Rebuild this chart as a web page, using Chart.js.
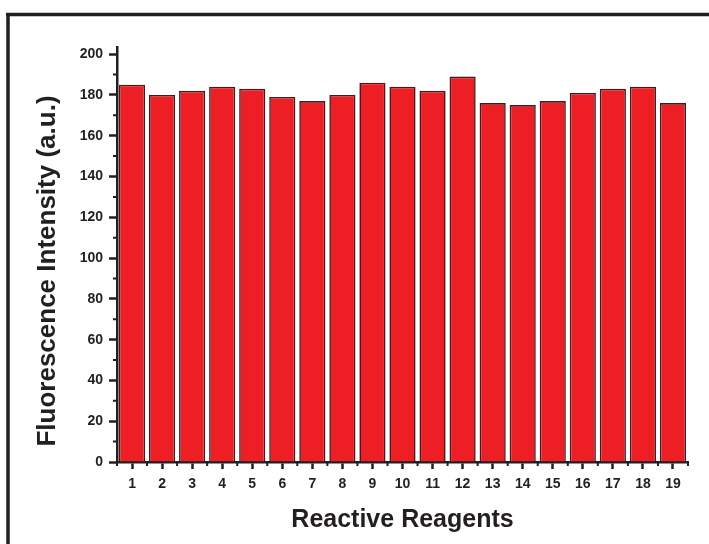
<!DOCTYPE html>
<html>
<head>
<meta charset="utf-8">
<script src="https://cdn.jsdelivr.net/npm/chart.js@4/dist/chart.umd.min.js"></script>
<style>
  html, body { margin: 0; padding: 0; background: #ffffff; }
  #wrap { width: 709px; height: 544px; position: relative; }
</style>
</head>
<body>
<div id="wrap"><canvas id="c" width="709" height="544"></canvas></div>
<script>
// Reagent numbers along the x axis
const reagents = ['1', '2', '3', '4', '5', '6', '7', '8', '9', '10',
                  '11', '12', '13', '14', '15', '16', '17', '18', '19'];
// Fluorescence intensity (a.u.) measured for each reagent
const intensity = [185, 180, 182, 184, 183, 179, 177, 180, 186, 184,
                   182, 189, 176, 175, 177, 181, 183, 184, 176];
// Labelled ticks on the value axis, and the minor ticks between them
const yTickValues = [0, 20, 40, 60, 80, 100, 120, 140, 160, 180, 200];
const yMinorValues = [10, 30, 50, 70, 90, 110, 130, 150, 170, 190];
const yMin = 0;
const yMax = 203.5;

const xTitle = 'Reactive Reagents';
const yTitle = 'Fluorescence Intensity (a.u.)';

const INK = '#231f20';
const FONT = '"Liberation Sans", Arial, sans-serif';

// Frame lines, minor ticks and the rotated value-axis title
const decorations = {
  id: 'decorations',
  afterDraw(chart) {
    const ctx = chart.ctx;
    const xs = chart.scales.x;
    const ys = chart.scales.y;
    const area = chart.chartArea;
    ctx.save();
    ctx.strokeStyle = INK;

    // outer frame (top and left edges)
    ctx.lineWidth = 3.5;
    ctx.beginPath();
    ctx.moveTo(6, 14.5);
    ctx.lineTo(709, 14.5);
    ctx.moveTo(8, 13);
    ctx.lineTo(8, 544);
    ctx.stroke();

    // minor ticks on the value axis
    ctx.lineWidth = 2;
    ctx.beginPath();
    yMinorValues.forEach(v => {
      const py = ys.getPixelForValue(v);
      ctx.moveTo(area.left - 4, py);
      ctx.lineTo(area.left, py);
    });
    // minor ticks at the category boundaries
    const n = reagents.length;
    for (let i = 0; i <= n; i++) {
      const px = xs.left + i * (xs.right - xs.left) / n;
      ctx.moveTo(px, area.bottom);
      ctx.lineTo(px, area.bottom + 4);
    }
    ctx.stroke();

    // value-axis title
    ctx.fillStyle = INK;
    ctx.font = 'bold 26px ' + FONT;
    ctx.textAlign = 'center';
    ctx.textBaseline = 'middle';
    ctx.translate(48, 271);
    ctx.rotate(-Math.PI / 2);
    ctx.fillText(yTitle, 0, 0);
    ctx.restore();
  }
};

new Chart(document.getElementById('c'), {
  type: 'bar',
  data: {
    labels: reagents,
    datasets: [{
      data: intensity,
      backgroundColor: '#ed1f24',
      borderColor: '#4a181b',
      borderWidth: 1.6,
      categoryPercentage: 1.0,
      barPercentage: 0.87
    }]
  },
  options: {
    responsive: false,
    animation: false,
    devicePixelRatio: 1,
    layout: { padding: { left: 0, top: 47, right: 21, bottom: 0 } },
    plugins: {
      legend: { display: false },
      tooltip: { enabled: false },
      title: { display: false }
    },
    scales: {
      x: {
        afterFit(scale) { scale.height = 82; },
        grid: {
          display: true,
          offset: false,
          drawOnChartArea: false,
          drawTicks: true,
          tickLength: 7,
          tickWidth: 2.5,
          tickColor: INK
        },
        border: { display: true, color: INK, width: 2.5 },
        ticks: {
          color: INK,
          font: { family: FONT, size: 14, weight: 'bold' },
          padding: 7,
          maxRotation: 0,
          autoSkip: false
        },
        title: {
          display: true,
          text: xTitle,
          color: INK,
          font: { family: FONT, size: 25, weight: 'bold' },
          padding: { top: 0, bottom: 9 }
        }
      },
      y: {
        min: yMin,
        max: yMax,
        afterFit(scale) { scale.width = 117; },
        afterBuildTicks(scale) {
          scale.ticks = yTickValues.map(v => ({ value: v }));
        },
        grid: {
          display: true,
          drawOnChartArea: false,
          drawTicks: true,
          tickLength: 8,
          tickWidth: 2.5,
          tickColor: INK
        },
        border: { display: true, color: INK, width: 2.5 },
        ticks: {
          color: INK,
          font: { family: FONT, size: 14, weight: 'bold' },
          padding: 6
        },
        title: { display: false }
      }
    }
  },
  plugins: [decorations]
});
</script>
</body>
</html>
